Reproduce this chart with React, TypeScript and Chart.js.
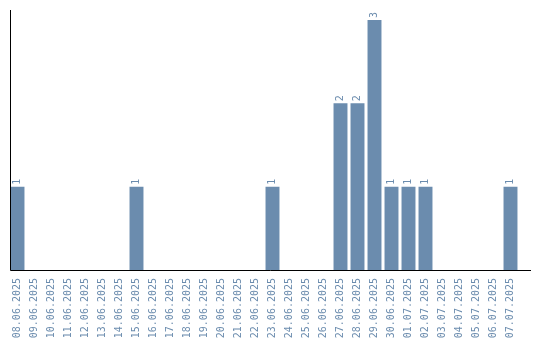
import React, { useEffect, useRef } from "react";
import { Chart, registerables } from "chart.js";

Chart.register(...registerables);

const categories = [
  "08.06.2025", "09.06.2025", "10.06.2025", "11.06.2025", "12.06.2025",
  "13.06.2025", "14.06.2025", "15.06.2025", "16.06.2025", "17.06.2025",
  "18.06.2025", "19.06.2025", "20.06.2025", "21.06.2025", "22.06.2025",
  "23.06.2025", "24.06.2025", "25.06.2025", "26.06.2025", "27.06.2025",
  "28.06.2025", "29.06.2025", "30.06.2025", "01.07.2025", "02.07.2025",
  "03.07.2025", "04.07.2025", "05.07.2025", "06.07.2025", "07.07.2025",
];

const counts = [
  1, 0, 0, 0, 0, 0, 0, 1, 0, 0,
  0, 0, 0, 0, 0, 1, 0, 0, 0, 2,
  2, 3, 1, 1, 1, 0, 0, 0, 0, 1,
];

const BAR_COLOR = "#6b8cae";
const FONT = "'DejaVu Sans Mono', monospace";

const valueLabels = {
  id: "valueLabels",
  afterDatasetsDraw(chart: any) {
    const ctx = chart.ctx;
    const meta = chart.getDatasetMeta(0);
    ctx.save();
    ctx.fillStyle = BAR_COLOR;
    ctx.font = `10px ${FONT}`;
    ctx.textAlign = "left";
    ctx.textBaseline = "middle";
    meta.data.forEach((bar: any, i: number) => {
      const v = counts[i];
      if (!v) return;
      ctx.save();
      ctx.translate(bar.x, bar.y - 2);
      ctx.rotate(-Math.PI / 2);
      ctx.fillText(String(v), 0, 0);
      ctx.restore();
    });
    ctx.restore();
  },
};

const xLabels = {
  id: "xLabels",
  afterDraw(chart: any) {
    const { ctx, chartArea, scales } = chart;
    ctx.save();
    ctx.fillStyle = BAR_COLOR;
    ctx.font = `10px ${FONT}`;
    ctx.textAlign = "right";
    ctx.textBaseline = "middle";
    categories.forEach((c, i) => {
      const x = scales.x.getPixelForValue(i);
      ctx.save();
      ctx.translate(x, chartArea.bottom + 8);
      ctx.rotate(-Math.PI / 2);
      ctx.fillText(c, 0, 0);
      ctx.restore();
    });
    // axis lines
    ctx.strokeStyle = "#000";
    ctx.lineWidth = 1;
    ctx.beginPath();
    ctx.moveTo(10.5, chartArea.top);
    ctx.lineTo(10.5, chartArea.bottom + 0.5);
    ctx.lineTo(531, chartArea.bottom + 0.5);
    ctx.stroke();
    ctx.restore();
  },
};

export default function App() {
  const ref = useRef<HTMLCanvasElement>(null);
  useEffect(() => {
    document.body.style.margin = "0";
    const chart = new Chart(ref.current!, {
      type: "bar",
      data: {
        labels: categories,
        datasets: [
          {
            data: counts,
            backgroundColor: BAR_COLOR,
            barPercentage: 0.82,
            categoryPercentage: 1,
          },
        ],
      },
      options: {
        animation: false,
        responsive: false,
        layout: { padding: { left: 9, top: 10, right: 21, bottom: 0 } },
        plugins: { legend: { display: false }, tooltip: { enabled: false } },
        scales: {
          y: { display: false, min: 0, max: 3.12 },
          x: {
            grid: { display: false },
            border: { display: false },
            ticks: { display: false },
            afterFit(scale: any) {
              scale.height = 70;
            },
          },
        },
      },
      plugins: [valueLabels, xLabels],
    });
    return () => chart.destroy();
  }, []);
  return <canvas ref={ref} width={540} height={340} style={{ display: "block" }} />;
}
